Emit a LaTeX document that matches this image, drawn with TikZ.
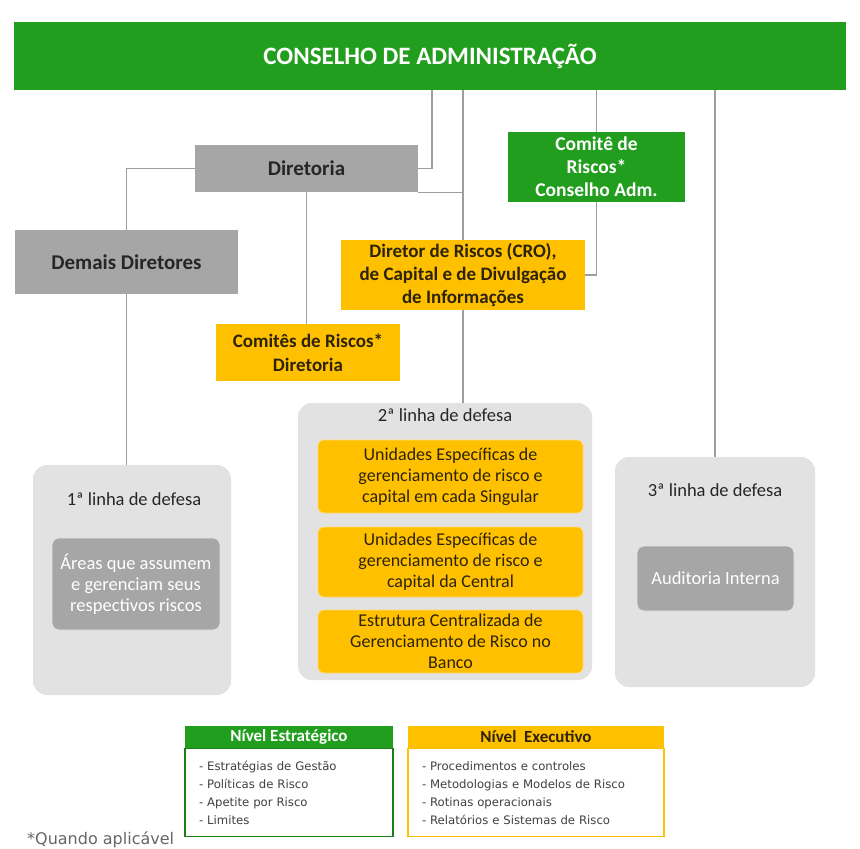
\documentclass[tikz,border=0pt]{standalone}
\usepackage{fontspec}
\setmainfont{Carlito}
\newfontfamily\legendfont{DejaVu Sans}
\usetikzlibrary{positioning}
\definecolor{cagreen}{RGB}{34,158,30}
\definecolor{cagold}{RGB}{255,192,0}
\definecolor{cagray}{RGB}{166,166,166}
\definecolor{calight}{RGB}{226,226,226}
\definecolor{caline}{RGB}{158,158,158}
\definecolor{catext}{RGB}{45,35,8}
\newcommand{\setsz}[2]{\fontsize{#1}{#2}\selectfont}
\tikzset{
  box/.style={inner sep=2pt, align=center},
  greenbox/.style={box, fill=cagreen, text=white, font=\setsz{19.5}{23}\bfseries},
  graybox/.style={box, fill=cagray, text=black!85, font=\setsz{21}{24}\bfseries},
  goldbox/.style={box, fill=cagold, text=catext, font=\setsz{19}{23}\bfseries},
  defesa/.style={fill=calight, rounded corners=14pt, inner sep=0pt},
  titulo/.style={text=black!85, font=\setsz{18.5}{21}},
  unidade/.style={box, fill=cagold, draw=cagold!55!white, line width=0.8pt, rounded corners=6pt,
    text=catext, font=\setsz{18}{21}},
  interna/.style={box, fill=cagray, draw=white!80!gray, line width=0.8pt, rounded corners=7pt,
    text=white, font=\setsz{18.5}{21}},
  link/.style={draw=caline, line width=1.4pt},
  legendhead/.style={inner sep=0pt, minimum height=22pt, font=\setsz{17}{20}\bfseries},
  legendbody/.style={fill=white, line width=1.2pt, inner sep=0pt, align=left,
    text=black!75, font=\legendfont\setsz{11.7}{18}},
}
\begin{document}
\begin{tikzpicture}[x=1pt,y=-1pt]
  \path[use as bounding box, fill=white] (0,0) rectangle (860,849);
  % topo
  \node[greenbox, font=\setsz{25}{28}\bfseries, minimum width=832pt, minimum height=68pt] (conselho) at (430,56) {CONSELHO DE ADMINISTRAÇÃO};
  \node[graybox, minimum width=223pt, minimum height=47pt] (diretoria) at (306.5,168.5) {Diretoria};
  \node[graybox, minimum width=223pt, minimum height=64pt] (demais) at (126.5,262) {Demais Diretores};
  \node[greenbox, minimum width=177pt, minimum height=70pt] (comiteca) at (596.5,167) {Comitê de\\Riscos*\\Conselho Adm.};
  \node[goldbox, minimum width=244pt, minimum height=70pt] (cro) at (463,275) {Diretor de Riscos (CRO),\\de Capital e de Divulgação\\de Informações};
  \node[goldbox, font=\setsz{19}{24}\bfseries, minimum width=184pt, minimum height=57pt] (comitesdir) at (308,352.5) {Comitês de Riscos*\\Diretoria};

  % linhas de defesa
  \node[defesa, minimum width=198pt, minimum height=230pt] (linha1) at (132,580) {};
  \node[titulo] (titulo1) at (134,499) {1ª linha de defesa};
  \node[interna, minimum width=168pt, minimum height=92pt] (areas) at (136,584) {Áreas que assumem\\e gerenciam seus\\respectivos riscos};

  \node[defesa, minimum width=294pt, minimum height=277pt] (linha2) at (445,541.5) {};
  \node[titulo] (titulo2) at (445,415) {2ª linha de defesa};
  \node[unidade, minimum width=265pt, minimum height=73pt] (singular) at (450.5,476.5) {Unidades Específicas de\\gerenciamento de risco e\\capital em cada Singular};
  \node[unidade, minimum width=265pt, minimum height=70pt] (central) at (450.5,562) {Unidades Específicas de\\gerenciamento de risco e\\capital da Central};
  \node[unidade, minimum width=265pt, minimum height=63pt] (banco) at (450.5,641.5) {Estrutura Centralizada de\\Gerenciamento de Risco no\\Banco};

  \node[defesa, minimum width=200pt, minimum height=230pt] (linha3) at (715,572) {};
  \node[titulo] (titulo3) at (715,490) {3ª linha de defesa};
  \node[interna, minimum width=157pt, minimum height=65pt] (auditoria) at (715.5,578.5) {Auditoria Interna};

  % ligacoes
  \draw[link] (diretoria.east) -| (conselho.south -| 432,0);
  \draw[link] (conselho.south -| cro.north) -- (cro.north);
  \draw[link] (diretoria.south east) -| (cro.north);
  \draw[link] (cro.south) -- (cro.south |- linha2.north);
  \draw[link] (diretoria.west) -| (demais.north);
  \draw[link] (demais.south) -- (demais.south |- linha1.north);
  \draw[link] (diretoria.south) -- (diretoria.south |- comitesdir.north);
  \draw[link] (conselho.south -| comiteca.north) -- (comiteca.north);
  \draw[link] (comiteca.south) |- (cro.east);
  \draw[link] (conselho.south -| linha3.north) -- (linha3.north);

  % legenda
  \node[legendhead, fill=cagreen, text=white, minimum width=208pt] (estrhead) at (289,737) {Nível Estratégico};
  \node[legendbody, draw=cagreen!80!black, minimum width=208pt, minimum height=88pt, text width=180pt,
    below=0pt of estrhead] (estrbody) {- Estratégias de Gestão\\- Políticas de Risco\\- Apetite por Risco\\- Limites};
  \node[legendhead, fill=cagold, text=catext, minimum width=256pt] (exechead) at (536,737) {Nível\ \ Executivo};
  \node[legendbody, draw=cagold, minimum width=256pt, minimum height=88pt, text width=228pt,
    below=0pt of exechead] (execbody) {- Procedimentos e controles\\- Metodologias e Modelos de Risco\\- Rotinas operacionais\\- Relatórios e Sistemas de Risco};
  \node[anchor=west, inner sep=0pt, text=black!60, font=\legendfont\setsz{16}{18}] (nota) at (27,840) {*Quando aplicável};
\end{tikzpicture}
\end{document}
